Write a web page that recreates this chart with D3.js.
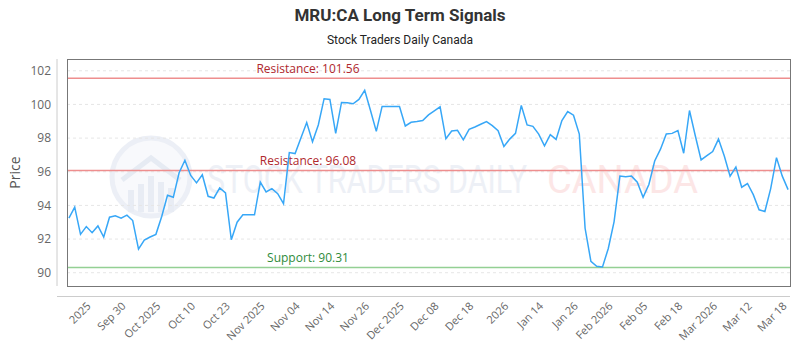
<!DOCTYPE html>
<html>
<head>
<meta charset="utf-8">
<script src="https://cdn.jsdelivr.net/npm/d3@7"></script>
<style>
  body { margin: 0; background: #fff; }
  svg text { font-family: "Open Sans", sans-serif; }
  .title { font-family: Roboto, sans-serif; font-weight: bold; font-size: 17px; fill: #333; }
  .subtitle { font-family: Roboto, sans-serif; font-size: 12px; fill: #222; }
  .ytick text { font-size: 12px; fill: #666; }
  .xtick text { font-size: 11px; fill: #666; }
  .grid line { stroke: #e6e6e6; stroke-dasharray: 3,3; }
</style>
</head>
<body>
<script>
// closing prices, one per trading day
let prices = [
  93.24, 93.9, 92.28, 92.74, 92.38, 92.78, 92.12, 93.3, 93.38, 93.24,
  93.42, 93.1, 91.4, 91.94, 92.12, 92.28, 93.34, 94.6, 94.48, 95.94,
  96.68, 95.78, 95.34, 95.82, 94.54, 94.44, 95.04, 94.74, 91.96, 93.0,
  93.44, 93.44, 93.44, 95.38, 94.8, 95.0, 94.7, 94.1, 97.14, 97.08,
  98.0, 98.92, 97.78, 98.78, 100.34, 100.3, 98.28, 100.12, 100.1, 100.04,
  100.3, 100.84, 99.64, 98.4, 99.88, 99.88, 99.88, 99.88, 98.72, 98.94,
  98.98, 99.04, 99.38, 99.62, 99.86, 97.96, 98.42, 98.46, 97.9, 98.52,
  98.66, 98.82, 98.98, 98.74, 98.44, 97.5, 97.94, 98.28, 99.94, 98.78,
  98.7, 98.24, 97.54, 98.2, 97.92, 99.04, 99.58, 99.36, 98.24, 92.64,
  90.68, 90.38, 90.34, 91.44, 93.04, 95.74, 95.7, 95.74, 95.38, 94.48,
  95.24, 96.64, 97.34, 98.24, 98.28, 98.44, 97.1, 99.64, 98.14, 96.7,
  96.96, 97.2, 97.94, 96.94, 95.74, 96.28, 95.08, 95.3, 94.64, 93.74,
  93.64, 95.0, 96.84, 95.74, 94.94
]
let tickIndex = [3, 9, 15, 21, 27, 33, 39, 45, 51, 57, 63, 69, 75, 81, 87, 93, 99, 105, 111, 117, 123]
let tickLabels = ["2025", "Sep 30", "Oct 2025", "Oct 10", "Oct 23", "Nov 2025", "Nov 04", "Nov 14",
  "Nov 26", "Dec 2025", "Dec 08", "Dec 18", "2026", "Jan 14", "Jan 26", "Feb 2026", "Feb 05",
  "Feb 18", "Mar 2026", "Mar 12", "Mar 18"]
let yTicks = [90, 92, 94, 96, 98, 100, 102]
let levels = [
  {label: "Resistance: 101.56", value: 101.56, kind: "res"},
  {label: "Resistance: 96.08", value: 96.08, kind: "res"},
  {label: "Support: 90.31", value: 90.31, kind: "sup"}
]

let w = 800, h = 350
let pLeft = 67, pRight = 790, pTop = 59, pBottom = 286

let svg = d3.select("body").append("svg")
  .attr("width", w).attr("height", h)

let x = d3.scalePoint()
  .domain(d3.range(prices.length))
  .range([pLeft, pRight])
  .padding(0.33)
let y = d3.scaleLinear()
  .domain([89.21, 102.7])
  .range([pBottom, pTop])

// titles
svg.append("text").attr("class", "title")
  .attr("x", w / 2).attr("y", 21).attr("text-anchor", "middle")
  .text("MRU:CA Long Term Signals")
svg.append("text").attr("class", "subtitle")
  .attr("x", w / 2).attr("y", 44).attr("text-anchor", "middle")
  .text("Stock Traders Daily Canada")

// watermark
let wm = svg.append("g").attr("opacity", 0.55)
wm.append("circle").attr("cx", 151).attr("cy", 177).attr("r", 39)
  .attr("fill", "#f3f5fa").attr("stroke", "#dde3ef").attr("stroke-width", 5)
wm.append("path")
  .attr("d", "M122,180 L151,158 L180,180")
  .attr("fill", "none").attr("stroke", "#d3dbea").attr("stroke-width", 5)
let bars = [[128, 190, 6, 22], [138, 184, 6, 28], [148, 176, 6, 36], [158, 182, 6, 30], [168, 188, 6, 24]]
wm.selectAll("rect.wmb").data(bars).enter().append("rect")
  .attr("x", d => d[0]).attr("y", d => d[1]).attr("width", d => d[2]).attr("height", d => d[3])
  .attr("fill", "#d7deec")
wm.append("text").attr("x", 207).attr("y", 193)
  .attr("textLength", 320).attr("lengthAdjust", "spacingAndGlyphs")
  .style("font-family", "Roboto, sans-serif").style("font-size", "39px")
  .attr("fill", "#dfe5f0")
  .text("STOCK TRADERS DAILY")
wm.append("text").attr("x", 547).attr("y", 193)
  .attr("textLength", 151).attr("lengthAdjust", "spacingAndGlyphs")
  .style("font-family", "Roboto, sans-serif").style("font-size", "39px")
  .attr("fill", "#fbd3d3")
  .text("CANADA")

// grid
svg.append("g").attr("class", "grid")
  .selectAll("line").data(yTicks).enter().append("line")
  .attr("x1", pLeft).attr("x2", pRight)
  .attr("y1", d => y(d)).attr("y2", d => y(d))

// y axis
let yAxis = d3.axisLeft(y).tickValues(yTicks).tickSize(0).tickPadding(0)
let yg = svg.append("g").attr("class", "ytick")
  .attr("transform", "translate(51,0)")
  .call(yAxis)
yg.select(".domain").remove()
svg.append("line").attr("x1", 57).attr("x2", 57).attr("y1", pTop).attr("y2", pBottom)
  .attr("stroke", "#ccc")
svg.append("text")
  .attr("transform", "translate(20," + ((pTop + pBottom) / 2) + ") rotate(-90)")
  .attr("text-anchor", "middle")
  .style("font-size", "14px").attr("fill", "#555")
  .text("Price")

// x axis
let xAxis = d3.axisBottom(x).tickValues(tickIndex)
  .tickFormat((d, i) => tickLabels[i]).tickSize(0)
let xg = svg.append("g").attr("class", "xtick")
  .attr("transform", "translate(0,296)")
  .call(xAxis)
xg.select(".domain").attr("stroke", "#ccc").attr("d", "M57,0.5H" + pRight)
xg.selectAll("text")
  .attr("text-anchor", "end")
  .attr("dy", "0.35em")
  .attr("transform", "translate(2,8) rotate(-45)")
  .attr("y", 0).attr("x", 0)

// levels
svg.selectAll("line.level").data(levels).enter().append("line")
  .attr("class", "level")
  .attr("x1", pLeft).attr("x2", pRight)
  .attr("y1", d => y(d.value)).attr("y2", d => y(d.value))
  .attr("stroke", d => d.kind == "res" ? "#ee8e8e" : "#94d094")
  .attr("stroke-width", 1.5)
svg.selectAll("text.level").data(levels).enter().append("text")
  .attr("class", "level")
  .attr("x", pLeft + (pRight - pLeft) / 3).attr("y", d => y(d.value) - 5)
  .attr("text-anchor", "middle")
  .style("font-size", "12px")
  .attr("fill", d => d.kind == "res" ? "#b0282e" : "#2e8b3a")
  .text(d => d.label)

// price line
let line = d3.line()
  .x((d, i) => x(i))
  .y(d => y(d))
svg.append("path")
  .datum(prices)
  .attr("d", line)
  .attr("fill", "none")
  .attr("stroke", "#37a7f7")
  .attr("stroke-width", 1.5)

// plot frame
svg.append("rect")
  .attr("x", pLeft + 0.5).attr("y", pTop + 0.5)
  .attr("width", pRight - pLeft).attr("height", pBottom - pTop)
  .attr("fill", "none").attr("stroke", "#777")
</script>
</body>
</html>
